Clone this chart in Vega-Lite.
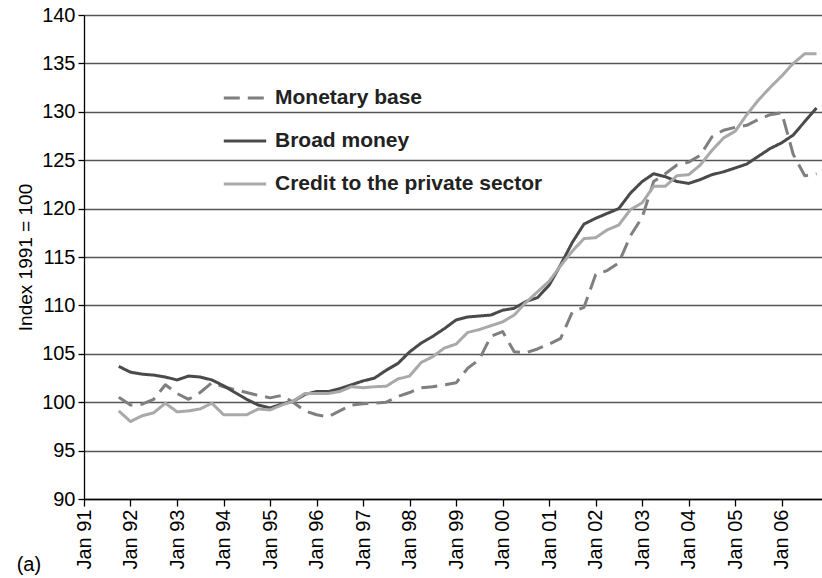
{
  "$schema": "https://vega.github.io/schema/vega-lite/v6.json",
  "width": 738,
  "height": 484,
  "autosize": {"type": "none"},
  "padding": {"left": 84, "top": 15, "right": 0, "bottom": 79},
  "background": "white",
  "config": {"font": "Liberation Sans", "view": {"stroke": null}},
  "title": {"text": "(a)", "orient": "bottom", "anchor": "start", "frame": "bounds", "fontSize": 20, "fontWeight": "normal", "color": "black", "offset": -14},
  "data": {"values": [
    {"date":"1991-10-01","series":"Monetary base","value":100.5},
    {"date":"1992-01-01","series":"Monetary base","value":99.7},
    {"date":"1992-04-01","series":"Monetary base","value":99.8},
    {"date":"1992-07-01","series":"Monetary base","value":100.3},
    {"date":"1992-10-01","series":"Monetary base","value":101.8},
    {"date":"1993-01-01","series":"Monetary base","value":100.9},
    {"date":"1993-04-01","series":"Monetary base","value":100.3},
    {"date":"1993-07-01","series":"Monetary base","value":101.0},
    {"date":"1993-10-01","series":"Monetary base","value":102.0},
    {"date":"1994-01-01","series":"Monetary base","value":101.6},
    {"date":"1994-04-01","series":"Monetary base","value":101.3},
    {"date":"1994-07-01","series":"Monetary base","value":101.0},
    {"date":"1994-10-01","series":"Monetary base","value":100.7},
    {"date":"1995-01-01","series":"Monetary base","value":100.45},
    {"date":"1995-04-01","series":"Monetary base","value":100.7},
    {"date":"1995-07-01","series":"Monetary base","value":100.0},
    {"date":"1995-10-01","series":"Monetary base","value":99.1},
    {"date":"1996-01-01","series":"Monetary base","value":98.7},
    {"date":"1996-04-01","series":"Monetary base","value":98.5},
    {"date":"1996-07-01","series":"Monetary base","value":99.1},
    {"date":"1996-10-01","series":"Monetary base","value":99.7},
    {"date":"1997-01-01","series":"Monetary base","value":99.85},
    {"date":"1997-04-01","series":"Monetary base","value":99.9},
    {"date":"1997-07-01","series":"Monetary base","value":100.0},
    {"date":"1997-10-01","series":"Monetary base","value":100.6},
    {"date":"1998-01-01","series":"Monetary base","value":101.0},
    {"date":"1998-04-01","series":"Monetary base","value":101.5},
    {"date":"1998-07-01","series":"Monetary base","value":101.6},
    {"date":"1998-10-01","series":"Monetary base","value":101.8},
    {"date":"1999-01-01","series":"Monetary base","value":102.0},
    {"date":"1999-04-01","series":"Monetary base","value":103.5},
    {"date":"1999-07-01","series":"Monetary base","value":104.4},
    {"date":"1999-10-01","series":"Monetary base","value":106.8},
    {"date":"2000-01-01","series":"Monetary base","value":107.3},
    {"date":"2000-04-01","series":"Monetary base","value":105.2},
    {"date":"2000-07-01","series":"Monetary base","value":105.1},
    {"date":"2000-10-01","series":"Monetary base","value":105.5},
    {"date":"2001-01-01","series":"Monetary base","value":106.0},
    {"date":"2001-04-01","series":"Monetary base","value":106.6},
    {"date":"2001-07-01","series":"Monetary base","value":109.3},
    {"date":"2001-10-01","series":"Monetary base","value":109.8},
    {"date":"2002-01-01","series":"Monetary base","value":113.2},
    {"date":"2002-04-01","series":"Monetary base","value":113.6},
    {"date":"2002-07-01","series":"Monetary base","value":114.4},
    {"date":"2002-10-01","series":"Monetary base","value":117.2},
    {"date":"2003-01-01","series":"Monetary base","value":119.1},
    {"date":"2003-04-01","series":"Monetary base","value":122.8},
    {"date":"2003-07-01","series":"Monetary base","value":123.6},
    {"date":"2003-10-01","series":"Monetary base","value":124.5},
    {"date":"2004-01-01","series":"Monetary base","value":124.8},
    {"date":"2004-04-01","series":"Monetary base","value":125.5},
    {"date":"2004-07-01","series":"Monetary base","value":127.4},
    {"date":"2004-10-01","series":"Monetary base","value":128.1},
    {"date":"2005-01-01","series":"Monetary base","value":128.4},
    {"date":"2005-04-01","series":"Monetary base","value":128.6},
    {"date":"2005-07-01","series":"Monetary base","value":129.2},
    {"date":"2005-10-01","series":"Monetary base","value":129.7},
    {"date":"2006-01-01","series":"Monetary base","value":129.9},
    {"date":"2006-04-01","series":"Monetary base","value":125.6},
    {"date":"2006-07-01","series":"Monetary base","value":123.4},
    {"date":"2006-10-01","series":"Monetary base","value":123.6},
    {"date":"1991-10-01","series":"Broad money","value":103.7},
    {"date":"1992-01-01","series":"Broad money","value":103.1},
    {"date":"1992-04-01","series":"Broad money","value":102.9},
    {"date":"1992-07-01","series":"Broad money","value":102.8},
    {"date":"1992-10-01","series":"Broad money","value":102.6},
    {"date":"1993-01-01","series":"Broad money","value":102.3},
    {"date":"1993-04-01","series":"Broad money","value":102.7},
    {"date":"1993-07-01","series":"Broad money","value":102.6},
    {"date":"1993-10-01","series":"Broad money","value":102.3},
    {"date":"1994-01-01","series":"Broad money","value":101.7},
    {"date":"1994-04-01","series":"Broad money","value":101.0},
    {"date":"1994-07-01","series":"Broad money","value":100.3},
    {"date":"1994-10-01","series":"Broad money","value":99.7},
    {"date":"1995-01-01","series":"Broad money","value":99.4},
    {"date":"1995-04-01","series":"Broad money","value":99.8},
    {"date":"1995-07-01","series":"Broad money","value":100.1},
    {"date":"1995-10-01","series":"Broad money","value":100.8},
    {"date":"1996-01-01","series":"Broad money","value":101.1},
    {"date":"1996-04-01","series":"Broad money","value":101.1},
    {"date":"1996-07-01","series":"Broad money","value":101.4},
    {"date":"1996-10-01","series":"Broad money","value":101.8},
    {"date":"1997-01-01","series":"Broad money","value":102.2},
    {"date":"1997-04-01","series":"Broad money","value":102.5},
    {"date":"1997-07-01","series":"Broad money","value":103.3},
    {"date":"1997-10-01","series":"Broad money","value":104.0},
    {"date":"1998-01-01","series":"Broad money","value":105.2},
    {"date":"1998-04-01","series":"Broad money","value":106.1},
    {"date":"1998-07-01","series":"Broad money","value":106.8},
    {"date":"1998-10-01","series":"Broad money","value":107.6},
    {"date":"1999-01-01","series":"Broad money","value":108.5},
    {"date":"1999-04-01","series":"Broad money","value":108.8},
    {"date":"1999-07-01","series":"Broad money","value":108.9},
    {"date":"1999-10-01","series":"Broad money","value":109.0},
    {"date":"2000-01-01","series":"Broad money","value":109.5},
    {"date":"2000-04-01","series":"Broad money","value":109.7},
    {"date":"2000-07-01","series":"Broad money","value":110.4},
    {"date":"2000-10-01","series":"Broad money","value":110.8},
    {"date":"2001-01-01","series":"Broad money","value":112.1},
    {"date":"2001-04-01","series":"Broad money","value":114.2},
    {"date":"2001-07-01","series":"Broad money","value":116.5},
    {"date":"2001-10-01","series":"Broad money","value":118.4},
    {"date":"2002-01-01","series":"Broad money","value":119.0},
    {"date":"2002-04-01","series":"Broad money","value":119.5},
    {"date":"2002-07-01","series":"Broad money","value":120.0},
    {"date":"2002-10-01","series":"Broad money","value":121.6},
    {"date":"2003-01-01","series":"Broad money","value":122.8},
    {"date":"2003-04-01","series":"Broad money","value":123.6},
    {"date":"2003-07-01","series":"Broad money","value":123.3},
    {"date":"2003-10-01","series":"Broad money","value":122.8},
    {"date":"2004-01-01","series":"Broad money","value":122.6},
    {"date":"2004-04-01","series":"Broad money","value":123.0},
    {"date":"2004-07-01","series":"Broad money","value":123.5},
    {"date":"2004-10-01","series":"Broad money","value":123.8},
    {"date":"2005-01-01","series":"Broad money","value":124.2},
    {"date":"2005-04-01","series":"Broad money","value":124.6},
    {"date":"2005-07-01","series":"Broad money","value":125.4},
    {"date":"2005-10-01","series":"Broad money","value":126.2},
    {"date":"2006-01-01","series":"Broad money","value":126.8},
    {"date":"2006-04-01","series":"Broad money","value":127.6},
    {"date":"2006-07-01","series":"Broad money","value":129.0},
    {"date":"2006-10-01","series":"Broad money","value":130.4},
    {"date":"1991-10-01","series":"Credit to the private sector","value":99.1},
    {"date":"1992-01-01","series":"Credit to the private sector","value":98.0},
    {"date":"1992-04-01","series":"Credit to the private sector","value":98.6},
    {"date":"1992-07-01","series":"Credit to the private sector","value":98.9},
    {"date":"1992-10-01","series":"Credit to the private sector","value":99.9},
    {"date":"1993-01-01","series":"Credit to the private sector","value":99.0},
    {"date":"1993-04-01","series":"Credit to the private sector","value":99.1},
    {"date":"1993-07-01","series":"Credit to the private sector","value":99.3},
    {"date":"1993-10-01","series":"Credit to the private sector","value":99.9},
    {"date":"1994-01-01","series":"Credit to the private sector","value":98.7},
    {"date":"1994-04-01","series":"Credit to the private sector","value":98.7},
    {"date":"1994-07-01","series":"Credit to the private sector","value":98.7},
    {"date":"1994-10-01","series":"Credit to the private sector","value":99.3},
    {"date":"1995-01-01","series":"Credit to the private sector","value":99.2},
    {"date":"1995-04-01","series":"Credit to the private sector","value":99.7},
    {"date":"1995-07-01","series":"Credit to the private sector","value":100.1},
    {"date":"1995-10-01","series":"Credit to the private sector","value":100.9},
    {"date":"1996-01-01","series":"Credit to the private sector","value":100.9},
    {"date":"1996-04-01","series":"Credit to the private sector","value":100.9},
    {"date":"1996-07-01","series":"Credit to the private sector","value":101.1},
    {"date":"1996-10-01","series":"Credit to the private sector","value":101.6},
    {"date":"1997-01-01","series":"Credit to the private sector","value":101.5},
    {"date":"1997-04-01","series":"Credit to the private sector","value":101.6},
    {"date":"1997-07-01","series":"Credit to the private sector","value":101.65},
    {"date":"1997-10-01","series":"Credit to the private sector","value":102.4},
    {"date":"1998-01-01","series":"Credit to the private sector","value":102.7},
    {"date":"1998-04-01","series":"Credit to the private sector","value":104.1},
    {"date":"1998-07-01","series":"Credit to the private sector","value":104.7},
    {"date":"1998-10-01","series":"Credit to the private sector","value":105.6},
    {"date":"1999-01-01","series":"Credit to the private sector","value":106.0},
    {"date":"1999-04-01","series":"Credit to the private sector","value":107.2},
    {"date":"1999-07-01","series":"Credit to the private sector","value":107.5},
    {"date":"1999-10-01","series":"Credit to the private sector","value":107.9},
    {"date":"2000-01-01","series":"Credit to the private sector","value":108.3},
    {"date":"2000-04-01","series":"Credit to the private sector","value":109.0},
    {"date":"2000-07-01","series":"Credit to the private sector","value":110.3},
    {"date":"2000-10-01","series":"Credit to the private sector","value":111.4},
    {"date":"2001-01-01","series":"Credit to the private sector","value":112.5},
    {"date":"2001-04-01","series":"Credit to the private sector","value":114.1},
    {"date":"2001-07-01","series":"Credit to the private sector","value":115.6},
    {"date":"2001-10-01","series":"Credit to the private sector","value":116.9},
    {"date":"2002-01-01","series":"Credit to the private sector","value":117.0},
    {"date":"2002-04-01","series":"Credit to the private sector","value":117.8},
    {"date":"2002-07-01","series":"Credit to the private sector","value":118.3},
    {"date":"2002-10-01","series":"Credit to the private sector","value":119.9},
    {"date":"2003-01-01","series":"Credit to the private sector","value":120.6},
    {"date":"2003-04-01","series":"Credit to the private sector","value":122.3},
    {"date":"2003-07-01","series":"Credit to the private sector","value":122.3},
    {"date":"2003-10-01","series":"Credit to the private sector","value":123.4},
    {"date":"2004-01-01","series":"Credit to the private sector","value":123.5},
    {"date":"2004-04-01","series":"Credit to the private sector","value":124.5},
    {"date":"2004-07-01","series":"Credit to the private sector","value":126.0},
    {"date":"2004-10-01","series":"Credit to the private sector","value":127.3},
    {"date":"2005-01-01","series":"Credit to the private sector","value":128.0},
    {"date":"2005-04-01","series":"Credit to the private sector","value":129.7},
    {"date":"2005-07-01","series":"Credit to the private sector","value":131.2},
    {"date":"2005-10-01","series":"Credit to the private sector","value":132.5},
    {"date":"2006-01-01","series":"Credit to the private sector","value":133.7},
    {"date":"2006-04-01","series":"Credit to the private sector","value":135.0},
    {"date":"2006-07-01","series":"Credit to the private sector","value":136.0},
    {"date":"2006-10-01","series":"Credit to the private sector","value":136.0}
  ]},
  "mark": {"type": "line", "strokeWidth": 3, "strokeJoin": "round"},
  "encoding": {
    "x": {
      "field": "date", "type": "temporal",
      "scale": {"type": "utc", "domain": [{"year": 1991, "month": 1, "date": 1, "utc": true}, {"year": 2006, "month": 11, "date": 13, "utc": true}], "nice": false},
      "axis": {
        "title": null, "format": "Jan %y", "tickCount": {"interval": "year", "step": 1},
        "labelAngle": -90, "labelAlign": "right", "labelBaseline": "middle",
        "labelFontSize": 20, "labelColor": "black", "labelPadding": 3, "labelFlush": false, "labelOverlap": false,
        "grid": false, "domainColor": "black", "domainWidth": 1.3, "tickColor": "black", "tickWidth": 1.3, "tickSize": 7
      }
    },
    "y": {
      "field": "value", "type": "quantitative",
      "scale": {"domain": [90, 140], "nice": false, "zero": false},
      "axis": {
        "title": "Index 1991 = 100", "titleFontSize": 19, "titleFontWeight": "normal", "titleColor": "black", "titlePadding": 6,
        "values": [90, 95, 100, 105, 110, 115, 120, 125, 130, 135, 140],
        "labelFontSize": 20, "labelColor": "black", "labelPadding": 3, "labelFlush": false,
        "grid": true, "gridColor": "#555555", "gridWidth": 1.3,
        "domainColor": "black", "domainWidth": 1.3, "tickColor": "black", "tickWidth": 1.3, "tickSize": 6
      }
    },
    "color": {
      "field": "series", "type": "nominal",
      "scale": {"domain": ["Monetary base", "Broad money", "Credit to the private sector"], "range": ["#7f7f7f", "#4a4a4a", "#a9a9a9"]},
      "legend": {"orient": "none", "legendX": 138, "legendY": 60, "title": null, "symbolType": "stroke", "symbolSize": 1800, "symbolStrokeWidth": 3, "labelFontSize": 21, "labelFontWeight": "bold", "labelColor": "#222222", "labelLimit": 0, "rowPadding": 10, "labelOffset": 7}
    },
    "strokeDash": {
      "field": "series", "type": "nominal",
      "scale": {"domain": ["Monetary base", "Broad money", "Credit to the private sector"], "range": [[16, 8], [1, 0], [1, 0]]},
      "legend": {"orient": "none", "legendX": 138, "legendY": 60, "title": null, "symbolType": "stroke", "symbolSize": 1800, "symbolStrokeWidth": 3, "labelFontSize": 21, "labelFontWeight": "bold", "labelColor": "#222222", "labelLimit": 0, "rowPadding": 10, "labelOffset": 7}
    }
  }
}
